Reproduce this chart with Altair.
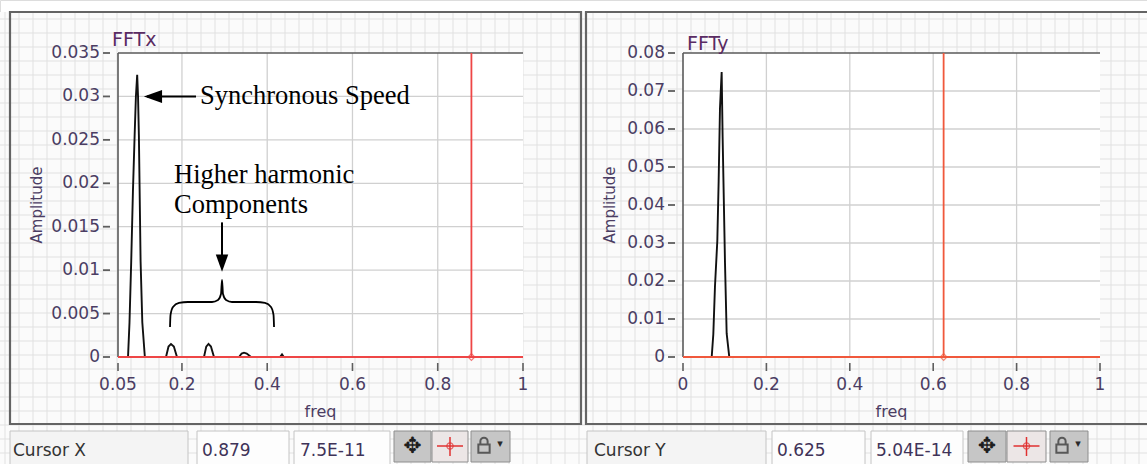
import altair as alt
import pandas as pd

# ---------------------------------------------------------------- data
# FFTx amplitude spectrum
fftx_freq = [0.05, 0.0735, 0.077, 0.081, 0.085, 0.089, 0.092, 0.095, 0.097, 0.099,
             0.103, 0.107, 0.113, 0.1626, 0.1685, 0.1743, 0.181, 0.1884, 0.2517,
             0.257, 0.2623, 0.268, 0.2752, 0.3338, 0.340, 0.3456, 0.352, 0.362,
             0.430, 0.4347, 0.439, 1.0]
fftx_amp = [0, 0, 0.004, 0.011, 0.019, 0.0255, 0.030, 0.0325, 0.030, 0.0255,
            0.011, 0.004, 0, 0, 0.0012, 0.0015, 0.0012, 0, 0,
            0.0012, 0.0015, 0.0012, 0, 0, 0.0004, 0.0005, 0.0004, 0,
            0, 0.0003, 0, 0]

# FFTy amplitude spectrum
ffty_freq = [0, 0.0688, 0.0727, 0.0767, 0.0823, 0.0855, 0.0887, 0.0927, 0.095,
             0.1007, 0.1047, 0.111, 1.0]
ffty_amp = [0, 0, 0.006, 0.0186, 0.0306, 0.0463, 0.0655, 0.075, 0.058,
            0.0248, 0.0062, 0, 0]

# cursor readouts
cursor_names = ["Cursor X", "Cursor Y"]
cursor_freq = [0.879, 0.625]
cursor_amp = [7.5e-11, 5.04e-14]
cursor_freq_text = ["0.879", "0.625"]
cursor_amp_text = ["7.5E-11", "5.04E-14"]

# axes
x_ticks_left = [0.05, 0.2, 0.4, 0.6, 0.8, 1]
y_ticks_left = [0, 0.005, 0.01, 0.015, 0.02, 0.025, 0.03, 0.035]
x_ticks_right = [0, 0.2, 0.4, 0.6, 0.8, 1]
y_ticks_right = [0, 0.01, 0.02, 0.03, 0.04, 0.05, 0.06, 0.07, 0.08]

# annotation (FFTx): brace under the harmonic peaks
brace_freq = [0.1720, 0.1732, 0.1790, 0.1931, 0.2142, 0.2705, 0.2846, 0.2916, 0.2940,
              0.2963, 0.3034, 0.3174, 0.3737, 0.3948, 0.4089, 0.4148, 0.4160]
brace_amp = [0.00345, 0.00484, 0.00576, 0.00622, 0.00633, 0.00633, 0.00656, 0.00725,
             0.00887, 0.00725, 0.00656, 0.00633, 0.00633, 0.00622, 0.00576, 0.00484,
             0.00345]
note_text = ["Synchronous Speed", "Higher harmonic", "Components"]
note_freq = [0.2424, 0.1814, 0.1814]
note_amp = [0.0300, 0.02095, 0.0175]

# ---------------------------------------------------------------- layout
W, H = 1147, 464
PLOT_TOP, PLOT_BOTTOM = 53, 357
FONT = "DejaVu Sans"
SERIF = "Liberation Serif"
LABEL = "#4b3d63"
TICK = "#5e5e5e"
GRID = "#d0d0d0"
BORDER = "#5a5a5a"


def PX(f):
    return alt.X(f"{f}:Q", scale=None, axis=None)


def PY(f):
    return alt.Y(f"{f}:Q", scale=None, axis=None)


def fmt(v):
    return f"{v:g}"


def panel(freq, amp, xdom, ydom, xticks, yticks, xpix, cur_f, cur_a, red,
          y_axis_at, y_title_at, extra=None):
    xs = alt.Scale(domain=xdom, range=xpix, nice=False, zero=False)
    ys = alt.Scale(domain=ydom, range=[PLOT_BOTTOM, PLOT_TOP], nice=False, zero=False)

    def X(f):
        return alt.X(f"{f}:Q", scale=xs, axis=None)

    def Y(f):
        return alt.Y(f"{f}:Q", scale=ys, axis=None)

    area = pd.DataFrame({"ax": [xdom[0]], "bx": [xdom[1]], "ay": [ydom[0]], "by": [ydom[1]]})
    plot_bg = alt.Chart(area).mark_rect(fill="white").encode(
        x=X("ax"), x2="bx", y=Y("ay"), y2="by")

    vg = pd.DataFrame({"v": xticks[1:-1], "y0": ydom[0], "y1": ydom[1]})
    hg = pd.DataFrame({"v": yticks[1:-1], "x0": xdom[0], "x1": xdom[1]})
    vgrid = alt.Chart(vg).mark_rule(color=GRID, strokeWidth=1.3).encode(
        x=X("v"), y=Y("y0"), y2="y1")
    hgrid = alt.Chart(hg).mark_rule(color=GRID, strokeWidth=1.3).encode(
        y=Y("v"), x=X("x0"), x2="x1")

    top_edge = pd.DataFrame({"ty": [ydom[1]], "tx0": [xdom[0]], "tx1": [xdom[1]]})
    left_edge = pd.DataFrame({"lx": [xdom[0]], "ly0": [ydom[0]], "ly1": [ydom[1]]})
    top = alt.Chart(top_edge).mark_rule(color=BORDER, strokeWidth=1.6).encode(
        y=Y("ty"), x=X("tx0"), x2="tx1")
    left = alt.Chart(left_edge).mark_rule(color=BORDER, strokeWidth=1.6).encode(
        x=X("lx"), y=Y("ly0"), y2="ly1")

    # axis ticks and labels
    xt = pd.DataFrame({"v": xticks, "lab": [fmt(v) for v in xticks]})
    yt = pd.DataFrame({"v": yticks, "lab": [fmt(v) for v in yticks]})
    x_tick = alt.Chart(xt).mark_rule(color=TICK, strokeWidth=1.6).encode(
        x=X("v"), y=alt.value(363), y2=alt.value(371))
    x_lab = alt.Chart(xt).mark_text(font=FONT, fontSize=17, color=LABEL,
                                    baseline="middle", align="center").encode(
        x=X("v"), y=alt.value(385), text="lab:N")
    y_tick = alt.Chart(yt).mark_rule(color=TICK, strokeWidth=1.8).encode(
        y=Y("v"), x=alt.value(y_axis_at - 7), x2=alt.value(y_axis_at))
    y_lab = alt.Chart(yt).mark_text(font=FONT, fontSize=17, color=LABEL,
                                    baseline="middle", align="right").encode(
        y=Y("v"), x=alt.value(y_axis_at - 10), text="lab:N")

    x_name = alt.Chart(pd.DataFrame({"t": ["freq"]})).mark_text(
        font=FONT, fontSize=16, color=LABEL, baseline="middle", align="center").encode(
        x=alt.value((xpix[0] + xpix[1]) / 2), y=alt.value(412), text="t:N")
    y_name = alt.Chart(pd.DataFrame({"t": ["Amplitude"]})).mark_text(
        font=FONT, fontSize=15, color=LABEL, baseline="middle", align="center",
        angle=270).encode(
        x=alt.value(y_title_at), y=alt.value((PLOT_TOP + PLOT_BOTTOM) / 2), text="t:N")

    spec = pd.DataFrame({"freq": freq, "amp": amp})
    line = alt.Chart(spec).mark_line(color="#111111", strokeWidth=1.9).encode(
        x=X("freq"), y=Y("amp"))

    cur = pd.DataFrame({"f": [cur_f], "a": [cur_a], "x0": [xdom[0]], "x1": [xdom[1]],
                        "y0": [ydom[0]], "y1": [ydom[1]]})
    red_h = alt.Chart(cur).mark_rule(color=red, strokeWidth=2).encode(
        y=Y("a"), x=X("x0"), x2="x1")
    red_v = alt.Chart(cur).mark_rule(color=red, strokeWidth=1.8).encode(
        x=X("f"), y=Y("y0"), y2="y1")
    red_pt = alt.Chart(cur).mark_point(shape="diamond", size=45, filled=False,
                                       color=red, strokeWidth=1.2).encode(
        x=X("f"), y=Y("a"))

    layers = [plot_bg, vgrid, hgrid, top, left, x_tick, x_lab, y_tick, y_lab,
              x_name, y_name, line, red_h, red_v, red_pt]
    if extra:
        layers += extra(X, Y)
    return alt.layer(*layers)


def fftx_notes(X, Y):
    brace = pd.DataFrame({"f": brace_freq, "a": brace_amp, "i": range(len(brace_freq))})
    brace_l = alt.Chart(brace).mark_line(color="black", strokeWidth=1.8,
                                         interpolate="monotone").encode(
        x=X("f"), y=Y("a"), order="i:Q")
    arrows = pd.DataFrame({"f0": [0.118, 0.294], "f1": [0.233, 0.294],
                           "a0": [0.030, 0.0155], "a1": [0.030, 0.0112]})
    shafts = alt.Chart(arrows).mark_rule(color="black", strokeWidth=2).encode(
        x=X("f0"), x2="f1", y=Y("a0"), y2="a1")
    head_l = alt.Chart(pd.DataFrame({"f": [0.132], "a": [0.030]})).mark_point(
        shape="M -1 0 L 1 -0.72 L 1 0.72 Z", size=330, filled=True, color="black",
        opacity=1).encode(x=X("f"), y=Y("a"))
    head_d = alt.Chart(pd.DataFrame({"f": [0.294], "a": [0.0108]})).mark_point(
        shape="M 0 1 L -0.72 -1 L 0.72 -1 Z", size=300, filled=True, color="black",
        opacity=1).encode(x=X("f"), y=Y("a"))
    notes = pd.DataFrame({"f": note_freq, "a": note_amp, "t": note_text})
    text = alt.Chart(notes).mark_text(font=SERIF, fontSize=26.5, align="left",
                                      baseline="middle", color="black").encode(
        x=X("f"), y=Y("a"), text="t:N")
    return [brace_l, shafts, head_l, head_d, text]


left_panel = panel(fftx_freq, fftx_amp, [0.05, 1], [0, 0.035], x_ticks_left, y_ticks_left,
                   [118, 523], cursor_freq[0], cursor_amp[0], "#ee4646",
                   y_axis_at=110, y_title_at=37, extra=fftx_notes)
right_panel = panel(ffty_freq, ffty_amp, [0, 1], [0, 0.08], x_ticks_right, y_ticks_right,
                    [683, 1100], cursor_freq[1], cursor_amp[1], "#f0583c",
                    y_axis_at=675, y_title_at=610)

# ---------------------------------------------------------------- front panel
panel_bg = alt.Chart(pd.DataFrame({"x0": [0], "x1": [W], "y0": [12], "y1": [H]})).mark_rect(
    fill="#fbfbfb").encode(x=PX("x0"), x2="x1", y=PY("y0"), y2="y1")

grid_x = pd.DataFrame({"v": list(range(5, W, 14))})
grid_y = pd.DataFrame({"v": list(range(19, H, 14))})
bg_v = alt.Chart(grid_x).mark_rule(color="#e1e1e1", strokeWidth=1).encode(
    x=PX("v"), y=alt.value(12), y2=alt.value(H))
bg_h = alt.Chart(grid_y).mark_rule(color="#e1e1e1", strokeWidth=1).encode(
    y=PY("v"), x=alt.value(0), x2=alt.value(W))

frames = pd.DataFrame({"x0": [10, 586], "x1": [581, 1152], "y0": [12, 12], "y1": [424, 424]})
frame_r = alt.Chart(frames).mark_rect(fill=None, stroke="#646464", strokeWidth=2.2).encode(
    x=PX("x0"), x2="x1", y=PY("y0"), y2="y1")

fields = pd.DataFrame({
    "x0": [10, 197, 294, 587, 772, 871],
    "x1": [188, 289, 390, 766, 865, 963],
    "fill": ["#f4f4f4", "#fdfdfd", "#fdfdfd", "#f4f4f4", "#fdfdfd", "#fdfdfd"],
})
field_r = alt.Chart(fields).mark_rect(stroke="#c4c4c4", strokeWidth=1).encode(
    x=PX("x0"), x2="x1", y=alt.value(431), y2=alt.value(H + 4),
    fill=alt.Fill("fill:N", scale=None))

buttons = pd.DataFrame({
    "x0": [394, 432, 471, 968, 1007, 1050],
    "x1": [431, 468, 510, 1006, 1046, 1088],
    "fill": ["#c6c6c6", "#ece6e6", "#c6c6c6", "#c6c6c6", "#ece6e6", "#c6c6c6"],
})
button_r = alt.Chart(buttons).mark_rect(stroke="#8e8e8e", strokeWidth=1).encode(
    x=PX("x0"), x2="x1", y=alt.value(431), y2=alt.value(462),
    fill=alt.Fill("fill:N", scale=None))

readout = pd.DataFrame({
    "x": [13, 202, 300, 594, 777, 876],
    "t": [cursor_names[0], cursor_freq_text[0], cursor_amp_text[0],
          cursor_names[1], cursor_freq_text[1], cursor_amp_text[1]],
    "c": ["#333333", "#3f3358", "#3f3358", "#333333", "#3f3358", "#3f3358"],
})
readout_t = alt.Chart(readout).mark_text(font=FONT, fontSize=17, align="left",
                                         baseline="middle").encode(
    x=PX("x"), y=alt.value(451), text="t:N", color=alt.Color("c:N", scale=None))

move_t = alt.Chart(pd.DataFrame({"x": [412.5, 987]})).mark_text(
    text="✥", font=FONT, fontSize=22, color="#1e1e1e", baseline="middle").encode(
    x=PX("x"), y=alt.value(446))

cross = pd.DataFrame({"x": [450, 1026.5]})
cross_h = alt.Chart(cross).mark_rule(color="#e03030", strokeWidth=1.5).encode(
    x=alt.X("xa:Q", scale=None, axis=None), x2="xb", y=alt.value(446)
).transform_calculate(xa="datum.x - 13", xb="datum.x + 13")
cross_v = alt.Chart(cross).mark_rule(color="#e03030", strokeWidth=1.5).encode(
    x=PX("x"), y=alt.value(437), y2=alt.value(456))
cross_c = alt.Chart(cross).mark_point(shape="circle", size=40, filled=False,
                                      color="#e03030", strokeWidth=1.2).encode(
    x=PX("x"), y=alt.value(446))

lock = pd.DataFrame({"x": [484, 1062]})
lock_p = alt.Chart(lock).mark_point(
    shape="M -0.45 -0.05 L -0.45 -0.45 A 0.45 0.45 0 0 1 0.45 -0.45 L 0.45 -0.05 "
          "M -0.7 -0.05 L 0.7 -0.05 L 0.7 0.95 L -0.7 0.95 Z",
    size=260, filled=False, color="#2a2a2a", strokeWidth=2).encode(
    x=PX("x"), y=alt.value(445))
lock_a = alt.Chart(lock).mark_text(text="▾", font=FONT, fontSize=11, color="#2a2a2a",
                                   baseline="middle").encode(
    x=alt.X("xa:Q", scale=None, axis=None), y=alt.value(444)
).transform_calculate(xa="datum.x + 16")

titles = pd.DataFrame({"x": [112, 687], "y": [40, 44], "t": ["FFTx", "FFTy"]})
title_t = alt.Chart(titles).mark_text(font=FONT, fontSize=19, align="left",
                                      baseline="middle", color="#5a2c63").encode(
    x=PX("x"), y=PY("y"), text="t:N")

front = alt.layer(panel_bg, bg_v, bg_h, frame_r, field_r, button_r, readout_t,
                  move_t, cross_h, cross_v, cross_c, lock_p, lock_a)

chart = alt.layer(front, left_panel, right_panel, title_t).resolve_scale(
    x="independent", y="independent"
).properties(
    width=W, height=H, padding=0,
    autosize=alt.AutoSizeParams(type="none"),
).configure_view(stroke=None).configure(background="white")

chart.save("out.html", embed_options={"renderer": "svg", "actions": False})
